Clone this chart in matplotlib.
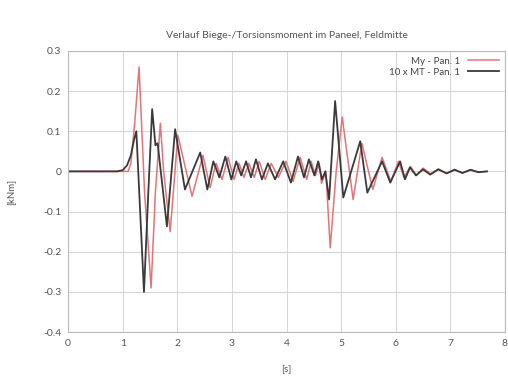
import matplotlib
matplotlib.use("Agg")
from matplotlib import pyplot as plt
import numpy as np

# My - Pan. 1 (red): time [s], moment [kNm]
t_my = [0.0, 1.10, 1.15, 1.22, 1.30, 1.40, 1.52, 1.60, 1.69, 1.75, 1.87,
        2.01, 2.27, 2.47, 2.60, 2.71, 2.82, 2.93, 3.04, 3.13, 3.22, 3.31,
        3.41, 3.50, 3.61, 3.72, 3.85, 3.99, 4.12, 4.25, 4.37, 4.45, 4.53,
        4.60, 4.64, 4.72, 4.80, 4.91, 5.02, 5.22, 5.38, 5.58, 5.75, 5.91,
        6.05, 6.15, 6.27, 6.38, 6.50, 6.64, 6.78, 6.93, 7.07, 7.22, 7.37,
        7.52, 7.67]
v_my = [0.0, 0.0, 0.02, 0.12, 0.26, -0.05, -0.29, -0.05, 0.12, 0.0, -0.15,
        0.09, -0.062, 0.04, -0.04, 0.02, -0.02, 0.035, -0.02, 0.02, -0.015,
        0.02, -0.015, 0.025, -0.02, 0.02, -0.015, 0.025, -0.025, 0.035,
        -0.02, 0.025, -0.01, 0.02, -0.03, 0.0, -0.19, 0.0, 0.135, -0.07,
        0.07, -0.045, 0.035, -0.025, 0.025, -0.015, 0.012, -0.01, 0.008,
        -0.006, 0.006, -0.005, 0.005, -0.004, 0.004, -0.002, 0.0]

# 10 x MT - Pan. 1 (black)
t_mt = [0.0, 0.90, 1.00, 1.08, 1.15, 1.21, 1.25, 1.32, 1.39, 1.47, 1.54,
        1.60, 1.64, 1.81, 1.96, 2.14, 2.42, 2.55, 2.66, 2.77, 2.88, 2.99,
        3.08, 3.17, 3.26, 3.35, 3.44, 3.55, 3.66, 3.79, 3.94, 4.08, 4.21,
        4.32, 4.41, 4.51, 4.58, 4.65, 4.71, 4.78, 4.89, 5.04, 5.35, 5.48,
        5.75, 5.90, 6.08, 6.17, 6.26, 6.37, 6.50, 6.63, 6.78, 6.93, 7.08,
        7.22, 7.37, 7.51, 7.67]
v_mt = [0.0, 0.0, 0.003, 0.015, 0.04, 0.08, 0.10, -0.10, -0.30, -0.05,
        0.155, 0.065, 0.07, -0.137, 0.105, -0.045, 0.047, -0.045, 0.025,
        -0.015, 0.037, -0.02, 0.025, -0.01, 0.025, -0.015, 0.03, -0.02,
        0.02, -0.02, 0.025, -0.028, 0.037, -0.015, 0.03, -0.01, 0.025,
        -0.02, 0.0, -0.07, 0.175, -0.065, 0.075, -0.053, 0.025, -0.028,
        0.025, -0.02, 0.01, -0.01, 0.005, -0.008, 0.005, -0.005, 0.004,
        -0.004, 0.004, -0.002, 0.0]

x_ticks = [0, 1, 2, 3, 4, 5, 6, 7, 8]
y_ticks = [-0.4, -0.3, -0.2, -0.1, 0, 0.1, 0.2, 0.3]
y_ticklabels = ['-0.4', '-0.3', '-0.2', '-0.1', '0', '0.1', '0.2', '0.3']

plt.rcParams['font.family'] = ['Lato', 'DejaVu Sans']

fig = plt.figure(figsize=(5.08, 3.88), dpi=100)
ax = fig.add_axes([0.134, 0.144, 0.86, 0.725])
ax.grid(color='#d8d8d8', linewidth=0.8)
ax.plot(t_my, v_my, color='#e3747a', linewidth=1.1, label='My - Pan. 1')
ax.plot(t_mt, v_mt, color='#3a3a3a', linewidth=1.3, label='10 x MT - Pan. 1')
ax.set_xlim(0, 8)
ax.set_ylim(-0.4, 0.3)
ax.set_xticks(x_ticks)
ax.set_yticks(y_ticks)
ax.set_yticklabels(y_ticklabels)
ax.tick_params(length=0, labelsize=7.5, colors='#555555', pad=5)
for s in ax.spines.values():
    s.set_color('#bbbbbb')
ax.set_xlabel('[s]', fontsize=7, color='#555555', labelpad=12)
ax.set_ylabel('[kNm]', fontsize=7, color='#555555', labelpad=20)
ax.set_title('Verlauf Biege-/Torsionsmoment im Paneel, Feldmitte',
             fontsize=7.5, color='#555555', pad=9)
ax.legend(loc='upper right', frameon=False, fontsize=7, markerfirst=False,
          handlelength=3.2, borderaxespad=0.2, labelspacing=0.2,
          labelcolor='#444444')
fig.savefig('out.png', dpi=100)
